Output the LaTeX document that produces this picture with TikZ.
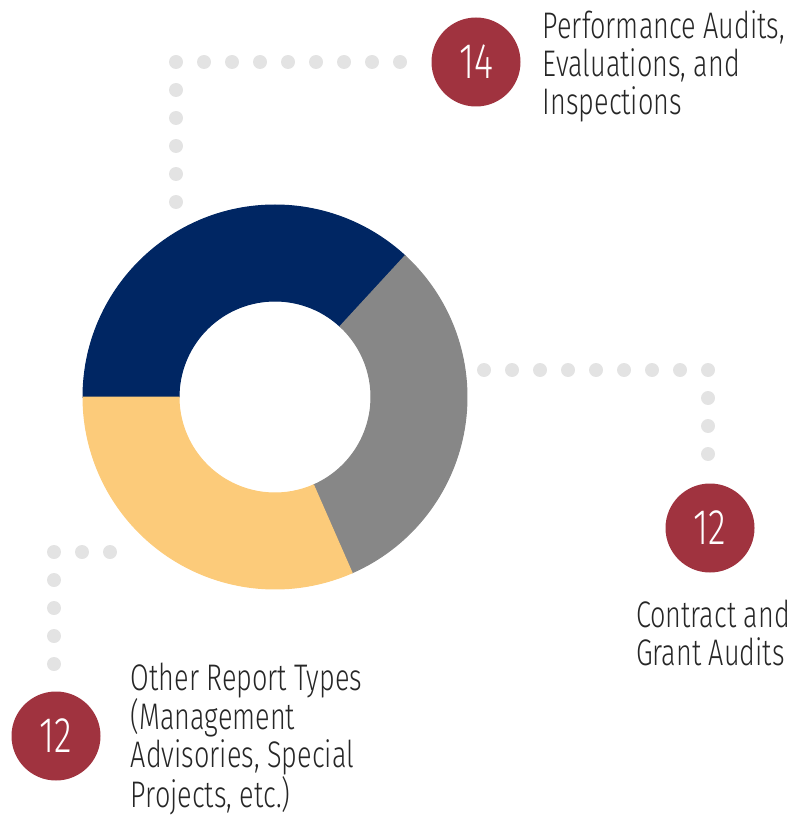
\documentclass[tikz,border=0pt]{standalone}
\usepackage{fontspec}
\IfFontExistsTF{Fira Sans Light}
  {\setmainfont{Fira Sans Light}[FakeStretch=0.73]}
  {\setmainfont{Fira Sans}[FakeStretch=0.73]}
\usepackage{tikz}
\usetikzlibrary{positioning, calc}

\definecolor{navyblue}{HTML}{002663}
\definecolor{slicegray}{HTML}{878787}
\definecolor{sliceyellow}{HTML}{FCCB7A}
\definecolor{badgered}{HTML}{A0333F}
\definecolor{dotgray}{HTML}{E3E3E3}
\definecolor{inktext}{HTML}{262626}

\begin{document}
\begin{tikzpicture}[
    x=1pt, y=1pt,
    badge/.style={circle, fill=badgered, minimum size=89pt, inner sep=0pt, text=white, font=\fontsize{50}{50}\selectfont},
    lbltext/.style={align=left, inner sep=0pt, text=inktext, font=\fontsize{37}{38}\selectfont},
    leader/.style={dotgray, line width=14pt, line cap=round, dash pattern=on 0pt off 28pt},
    slice/.style={draw=white, line width=1pt}
]

\useasboundingbox (0,0) rectangle (802,-818);

% Donut chart
\coordinate (ctr) at (275,-397);
\fill [slice, navyblue] ($(ctr)+(180:192)$) arc (180:47.37:192) -- ($(ctr)+(47.37:96)$) arc (47.37:180:96) -- cycle;
\fill [slice, slicegray] ($(ctr)+(47.37:192)$) arc (47.37:-66.32:192) -- ($(ctr)+(-66.32:96)$) arc (-66.32:47.37:96) -- cycle;
\fill [slice, sliceyellow] ($(ctr)+(-66.32:192)$) arc (-66.32:-180:192) -- ($(ctr)+(-180:96)$) arc (-180:-66.32:96) -- cycle;

% Badges
\node [badge] (c14) at (476,-62) {14};
\node [badge] (c12r) at (710,-528) {12};
\node [badge] (c12l) at (56,-736) {12};

% Labels
\node [lbltext, right=22pt of c14, yshift=-4pt] (perf) {Performance Audits,\\Evaluations, and\\Inspections};
\node [lbltext, below=27pt of c12r, xshift=3pt] (contract) {Contract and\\Grant Audits};
\node [lbltext, right=30pt of c12l, yshift=-3pt] (other) {Other Report Types\\(Management\\Advisories, Special\\Projects, etc.)};

% Leader dots
\coordinate (t0) at (176,-202);
\coordinate (t1) at (176,-62);
\coordinate (t2) at (400,-62);
\coordinate (r0) at (484,-370);
\coordinate (r1) at (708,-370);
\coordinate (r2) at (708,-454);
\coordinate (l0) at (110,-552);
\coordinate (l1) at (54,-552);
\coordinate (l2) at (54,-664);
\draw [leader] (t0) -- (t1) -- (t2);
\draw [leader] (r0) -- (r1) -- (r2);
\draw [leader] (l0) -- (l1) -- (l2);

\end{tikzpicture}
\end{document}
